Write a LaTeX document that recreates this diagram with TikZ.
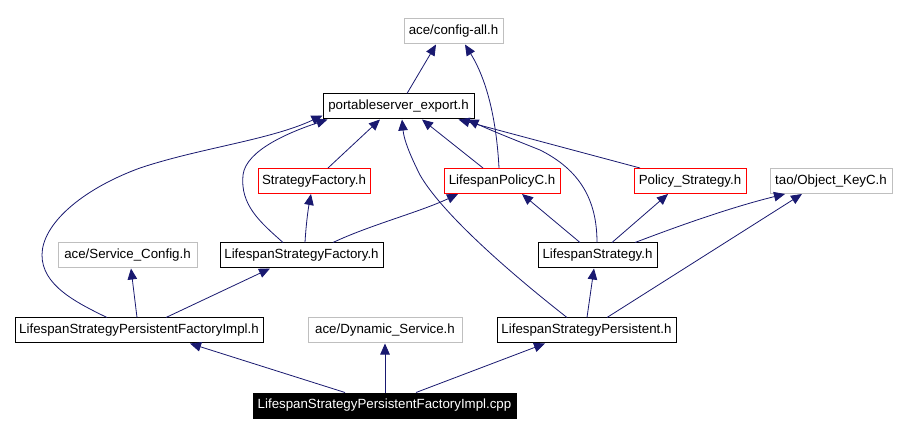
\documentclass[tikz,border=0pt]{standalone}
\usepackage{fontspec}
\setmainfont{Liberation Sans}
\usetikzlibrary{arrows.meta,calc}
\definecolor{edgecol}{HTML}{191970}
\definecolor{extgray}{HTML}{BFBFBF}
\begin{document}
\begin{tikzpicture}[x=1pt,y=-1pt,
  box/.style={draw, line width=1pt, inner sep=0pt, minimum height=25pt,
    font=\fontsize{13.3}{16}\selectfont, anchor=center},
  blkbox/.style={box, draw=black},
  redbox/.style={box, draw=red},
  extbox/.style={box, draw=extgray},
  mainbox/.style={box, draw=black, fill=black, text=white},
  dep/.style={draw=edgecol, line width=0.8pt, -{Triangle[length=11pt,width=9.5pt]}}
]
\fill[white] (0,0) rectangle (899,435);
\useasboundingbox (0,0) rectangle (899,435);

\node[extbox, minimum width=99pt]  (cfg)  at (453.5,31.5) {ace/config-all.h};
\node[blkbox, minimum width=151pt] (pse)  at (398.5,106.5) {portableserver\_export.h};
\node[redbox, minimum width=112pt] (sf)   at (314,181) {StrategyFactory.h};
\node[redbox, minimum width=116pt] (lpc)  at (502,181) {LifespanPolicyC.h};
\node[redbox, minimum width=112pt] (ps)   at (690,181) {Policy\_Strategy.h};
\node[extbox, minimum width=122pt] (okc)  at (831,181) {tao/Object\_KeyC.h};
\node[extbox, minimum width=139pt] (asc)  at (127.5,255.5) {ace/Service\_Config.h};
\node[blkbox, minimum width=163pt] (lsf)  at (301.5,255.5) {LifespanStrategyFactory.h};
\node[blkbox, minimum width=119pt] (ls)   at (597.5,255.5) {LifespanStrategy.h};
\node[blkbox, minimum width=248pt] (impl) at (139,330.5) {LifespanStrategyPersistentFactoryImpl.h};
\node[extbox, minimum width=154pt] (ads)  at (385,330.5) {ace/Dynamic\_Service.h};
\node[blkbox, minimum width=179pt] (lsp)  at (586.5,330.5) {LifespanStrategyPersistent.h};
\node[mainbox, minimum width=263pt] (cpp) at (384.5,405.5) {LifespanStrategyPersistentFactoryImpl.cpp};

% to ace/config-all.h
\draw[dep] ($(pse.north)+(8.5,0)$) -- ($(cfg.south)+(-17.5,0)$);
\draw[dep] ($(lpc.north)+(-3,0)$) .. controls (497,130) and (490,85) .. ($(cfg.south)+(11.5,0)$);

% to portableserver_export.h
\draw[dep] ($(impl.north)+(-32,0)$) .. controls (75,302) and (42,285) .. (42,255)
   .. controls (42,225) and (80,190) .. (140,168)
   .. controls (200,148) and (270,140) .. ($(pse.south west)+(0,-4)$);
\draw[dep] ($(lsf.north)+(-18.5,0)$) .. controls (260,222) and (240,205) .. (243,175)
   .. controls (246,150) and (290,132) .. ($(pse.south west)+(5,0)$);
\draw[dep] ($(sf.north)+(14,0)$) -- ($(pse.south)+(-18.5,0)$);
\draw[dep] ($(lsp.north)+(-19.5,0)$) .. controls (500,265) and (440,210) .. (420,175)
   .. controls (410,155) and (404,140) .. ($(pse.south)+(3.5,0)$);
\draw[dep] ($(lpc.north)+(-19,0)$) -- ($(pse.south)+(23.5,0)$);
\draw[dep] ($(ls.north)+(-0.5,0)$) .. controls (597,200) and (580,170) .. (540,150)
   .. controls (510,138) and (490,130) .. ($(pse.south east)+(-7,0)$);
\draw[dep] ($(ps.north)+(-50,0)$) -- ($(pse.south east)+(-16,0)$);

% second level
\draw[dep] ($(lsf.north)+(3.5,0)$) .. controls (306,225) and (308,210) .. ($(sf.south)+(-3,0)$);
\draw[dep] ($(lsf.north)+(31.5,0)$) .. controls (370,225) and (420,212) .. ($(lpc.south)+(-44,0)$);
\draw[dep] ($(ls.north)+(-17.5,0)$) -- ($(lpc.south)+(20,0)$);
\draw[dep] ($(ls.north)+(14.5,0)$) -- ($(ps.south)+(-22,0)$);
\draw[dep] ($(ls.north)+(37.5,0)$) .. controls (655,235) and (720,210) .. ($(okc.south)+(-46,0)$);
\draw[dep] ($(lsp.north)+(20.5,0)$) -- ($(okc.south)+(-29,0)$);
\draw[dep] ($(lsp.north)+(0.5,0)$) -- ($(ls.south)+(-3.5,0)$);
\draw[dep] ($(impl.north)+(-2,0)$) -- ($(asc.south)+(3.5,0)$);
\draw[dep] ($(impl.north)+(27,0)$) -- ($(lsf.south)+(-31.5,0)$);

% from the .cpp
\draw[dep] ($(cpp.north)+(-39.5,0)$) -- ($(impl.south)+(51,0)$);
\draw[dep] ($(cpp.north)+(0.5,0)$) -- (ads.south);
\draw[dep] ($(cpp.north)+(31.5,0)$) -- ($(lsp.south)+(-41.5,0)$);
\end{tikzpicture}
\end{document}
